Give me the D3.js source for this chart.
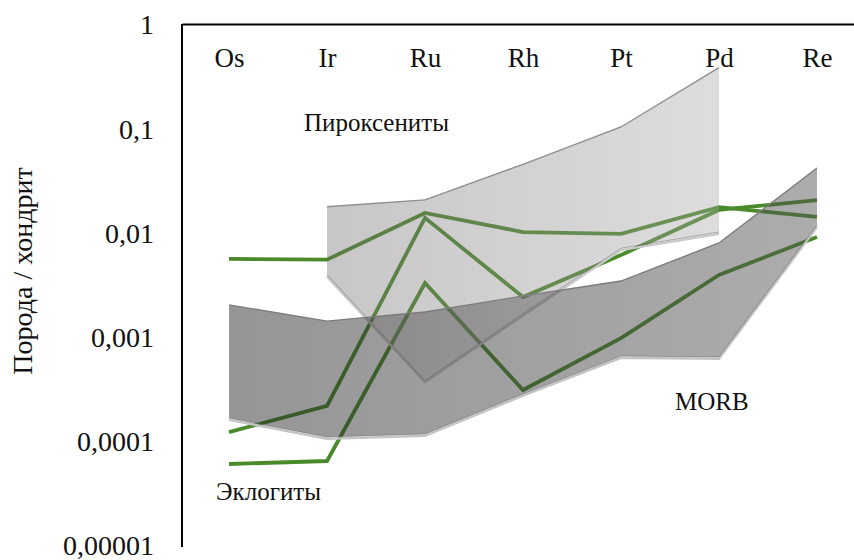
<!DOCTYPE html>
<html>
<head>
<meta charset="utf-8">
<script src="https://cdn.jsdelivr.net/npm/d3@7"></script>
<style>
  html, body { margin: 0; padding: 0; background: #fff; }
  svg { display: block; }
  svg text { font-family: "Liberation Serif", "Tinos", "Times New Roman", "DejaVu Serif", serif; }
</style>
</head>
<body>
<svg id="chart" width="854" height="560"></svg>
<script>
// Elements (chondrite-normalised PGE + Re)
const elements = ["Os", "Ir", "Ru", "Rh", "Pt", "Pd", "Re"];

// Pyroxenite field: upper and lower bounds (no data for Os and Re)
const pyroxeniteTop    = [null, 0.018, 0.021, 0.046, 0.105, 0.39, null];
const pyroxeniteBottom = [null, 0.0040, 0.00039, 0.0017, 0.0072, 0.0103, null];

// MORB field: upper and lower bounds
const morbTop    = [0.00206, 0.00144, 0.00176, 0.00251, 0.00349, 0.0081, 0.0424];
const morbBottom = [0.000169, 0.000111, 0.000119, 0.000288, 0.000666, 0.000652, 0.0120];

// Eclogite samples
const eclogiteA = [0.0057, 0.0056, 0.0157, 0.0103, 0.0099, 0.0179, 0.0144];
const eclogiteB = [0.000124, 0.000221, 0.0141, 0.00245, 0.0062, 0.0168, 0.0209];
const eclogiteC = [0.0000612, 0.0000654, 0.00334, 0.000314, 0.00099, 0.0040, 0.00923];

// Axis ticks
const yTicks = [1, 0.1, 0.01, 0.001, 0.0001, 0.00001];
const yTickLabels = ["1", "0,1", "0,01", "0,001", "0,0001", "0,00001"];

const FONT = "'Liberation Serif', 'Tinos', 'Times New Roman', 'DejaVu Serif', serif";

const svg = d3.select("#chart");

const x = d3.scalePoint()
  .domain(elements)
  .range([182, 864])
  .padding(0.48);

const y = d3.scaleLog()
  .domain([0.00001, 1])
  .range([546, 25]);

// Gradients giving the fields their shaded look
const defs = svg.append("defs");
function gradient(id, from, to) {
  const g = defs.append("linearGradient").attr("id", id)
    .attr("x1", "0%").attr("x2", "100%").attr("y1", "0%").attr("y2", "0%");
  g.append("stop").attr("offset", "0%").attr("stop-color", from);
  g.append("stop").attr("offset", "100%").attr("stop-color", to);
}
gradient("gMorb", "#222", "#525252");
gradient("gPyrox", "#6e6a6a", "#a8a5a5");

// Eclogite lines sit underneath the translucent fields
const line = d3.line()
  .x((d, i) => x(elements[i]))
  .y(d => y(d));

const lineLayer = svg.append("g");
[eclogiteA, eclogiteB, eclogiteC].forEach(series => {
  lineLayer.append("path")
    .datum(series)
    .attr("d", line)
    .attr("fill", "none")
    .attr("stroke", "#4a8a2a")
    .attr("stroke-width", 3.8)
    .attr("stroke-linejoin", "miter");
});

const fields = [
  { top: morbTop, bottom: morbBottom, fill: "gMorb", opacity: 0.48, edgeTop: "#7d7d7d", rim: "#c4c4c4" },
  { top: pyroxeniteTop, bottom: pyroxeniteBottom, fill: "gPyrox", opacity: 0.38, edgeTop: "#8e8e8e", rim: "#c9c9c9" }
].map(f => Object.assign(f, {
  rows: elements.map((e, i) => ({ e, t: f.top[i], b: f.bottom[i] }))
    .filter(d => d.t != null && d.b != null)
}));

const edgeLine = acc => d3.line().x(d => x(d.e)).y(acc);
const fieldLayer = svg.append("g");

// light lower rims go first so the fields shade them where they overlap
fields.forEach(f => {
  fieldLayer.append("path")
    .datum(f.rows)
    .attr("d", edgeLine(d => y(d.b) + 1.8))
    .attr("fill", "none")
    .attr("stroke", f.rim)
    .attr("stroke-width", 2.4);
});

fields.forEach(f => {
  fieldLayer.append("path")
    .datum(f.rows)
    .attr("d", d3.area().x(d => x(d.e)).y0(d => y(d.b)).y1(d => y(d.t)))
    .attr("fill", `url(#${f.fill})`)
    .attr("fill-opacity", f.opacity);
  fieldLayer.append("path")
    .datum(f.rows)
    .attr("d", edgeLine(d => y(d.t)))
    .attr("fill", "none")
    .attr("stroke", f.edgeTop)
    .attr("stroke-width", 1.4);
  fieldLayer.append("path")
    .datum(f.rows)
    .attr("d", edgeLine(d => y(d.b)))
    .attr("fill", "none")
    .attr("stroke", "#6a6a6a")
    .attr("stroke-width", 0.8)
    .attr("stroke-opacity", 0.7);
});

// Top axis line with element labels hanging below it
const xAxis = svg.append("g")
  .attr("transform", "translate(0,24)")
  .call(d3.axisBottom(x).tickSize(0).tickPadding(24));
xAxis.attr("font-family", FONT).attr("font-size", 27);
xAxis.select(".domain").attr("stroke", "#000").attr("stroke-width", 2);
xAxis.selectAll("text").attr("fill", "#111");

// Left log axis
const yAxis = svg.append("g")
  .attr("transform", "translate(182,0)")
  .call(d3.axisLeft(y)
    .tickValues(yTicks)
    .tickFormat((d, i) => yTickLabels[i])
    .tickSize(0)
    .tickPadding(28));
yAxis.attr("font-family", FONT).attr("font-size", 28);
yAxis.select(".domain").attr("stroke", "#000").attr("stroke-width", 2)
  .attr("d", `M0,${y(1) - 1}V${y(0.00001) + 1}`);
yAxis.selectAll("text").attr("fill", "#111");

// Axis title
svg.append("text")
  .attr("transform", "translate(32,271) rotate(-90)")
  .attr("text-anchor", "middle")
  .attr("font-family", FONT)
  .attr("font-size", 28)
  .attr("fill", "#111")
  .text("Порода / хондрит");

// Field labels
const labels = svg.append("g").attr("font-family", FONT).attr("font-size", 25).attr("fill", "#111");
labels.append("text").attr("x", 304).attr("y", 131).text("Пироксениты");
labels.append("text").attr("x", 675).attr("y", 410).text("MORB");
labels.append("text").attr("x", 216).attr("y", 500).text("Эклогиты");
</script>
</body>
</html>
